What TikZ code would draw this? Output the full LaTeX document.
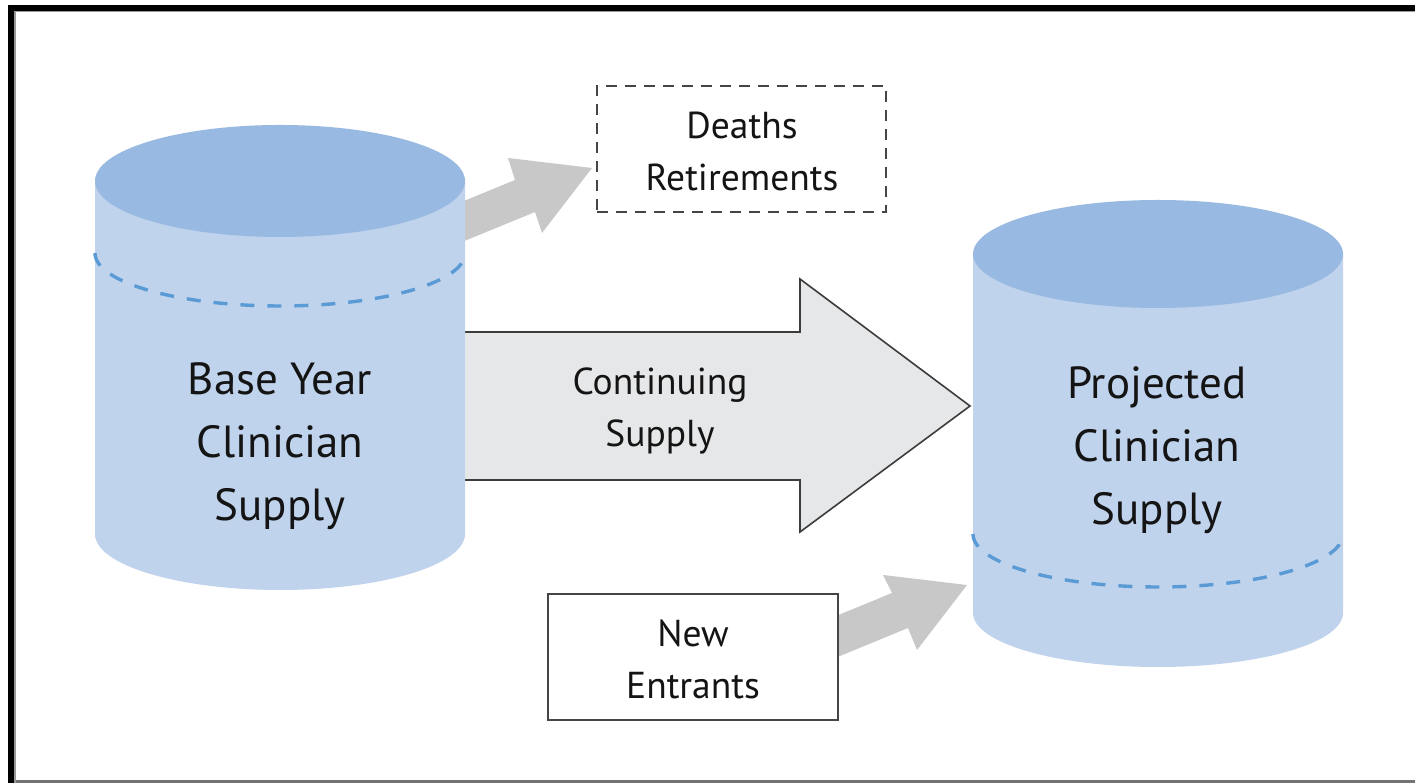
\documentclass[tikz,border=0pt]{standalone}
\usepackage{fontspec}
\setmainfont{PT Sans}
\definecolor{cylside}{HTML}{C0D3EC}
\definecolor{cyltop}{HTML}{98B9E2}
\definecolor{cyldash}{HTML}{5B9BD5}
\definecolor{grayarrow}{HTML}{C8C8C8}
\definecolor{bigfill}{HTML}{E6E7E8}
\definecolor{bigline}{HTML}{3C3C3C}
\definecolor{boxline}{HTML}{454545}
\definecolor{txt}{HTML}{141414}
\tikzset{
  cylbody/.style={fill=cylside, draw=none},
  cyltopst/.style={fill=cyltop, draw=none},
  dashline/.style={draw=cyldash, line width=3.4pt, dash pattern=on 14pt off 13pt},
  grayarr/.style={fill=grayarrow, draw=none},
  bigarr/.style={fill=bigfill, draw=bigline, line width=1.6pt, line join=miter},
  bigtext/.style={align=center, font=\fontsize{45}{63}\selectfont, text=txt},
  midtext/.style={align=center, font=\fontsize{37.5}{52}\selectfont, text=txt},
  dashbox/.style={draw=boxline, line width=1.8pt, dash pattern=on 11pt off 8pt, fill=white},
  solidbox/.style={draw=boxline, line width=1.6pt, fill=white},
}
\begin{document}
\begin{tikzpicture}[x=1pt,y=1pt]
\useasboundingbox (0,0) rectangle (1415,783);
\fill[white] (0,0) rectangle (1415,783);
% frame
\fill[black] (8,0) rectangle (14,778);
\fill[black] (8,772) rectangle (1415,778);
\fill[black!55] (14,0) rectangle (1415,2.5);
\fill[black!40] (14,0) rectangle (15.5,772);
\fill[black!40] (14,770.5) rectangle (1415,772);

% big arrow (behind cylinders)
\draw[bigarr] (400,451) -- (800,451) -- (800,504) -- (970,377) -- (800,251) -- (800,303) -- (400,303) -- cycle;

% deaths arrow
\fill[grayarr] (440,572.2) -- (515,603) -- (508,625) -- (592,615) -- (542,550) -- (535,571) -- (440,532) -- cycle;

% new entrants arrow
\fill[grayarr] (820,160.4) -- (892,190) -- (883,208) -- (967,198) -- (917,133) -- (908,155) -- (820,118.8) -- cycle;

% left cylinder
\path[cylbody] (95,602) -- (95,249) arc[start angle=180,end angle=360,x radius=185,y radius=56] -- (465,602) -- cycle;
\fill[cyltopst] (280,602) ellipse [x radius=185, y radius=56];
\draw[dashline] (95,530) arc[start angle=180,end angle=360,x radius=185,y radius=53];
\coordinate (bcyl) at (280,337);
\node[bigtext] (base) at (bcyl) {Base Year\\Clinician\\Supply};

% right cylinder
\path[cylbody] (973,529) -- (973,170) arc[start angle=180,end angle=360,x radius=185,y radius=54] -- (1343,529) -- cycle;
\fill[cyltopst] (1158,529) ellipse [x radius=185, y radius=54];
\draw[dashline] (973,249) arc[start angle=180,end angle=360,x radius=185,y radius=53];
\node[bigtext] (proj) at (1157,333) {Projected\\Clinician\\Supply};

% continuing supply label
\node[midtext] (cont) at (660,372) {Continuing\\Supply};

% boxes
\node[dashbox, minimum width=289pt, minimum height=126pt, inner sep=0pt] (deaths) at (741.5,634) {};
\node[midtext] (deathst) at (742,632) {Deaths\\Retirements};
\node[solidbox, minimum width=290pt, minimum height=126pt, inner sep=0pt] (newent) at (693,126) {};
\node[midtext] (newt) at (693,124) {New\\Entrants};
\end{tikzpicture}
\end{document}
